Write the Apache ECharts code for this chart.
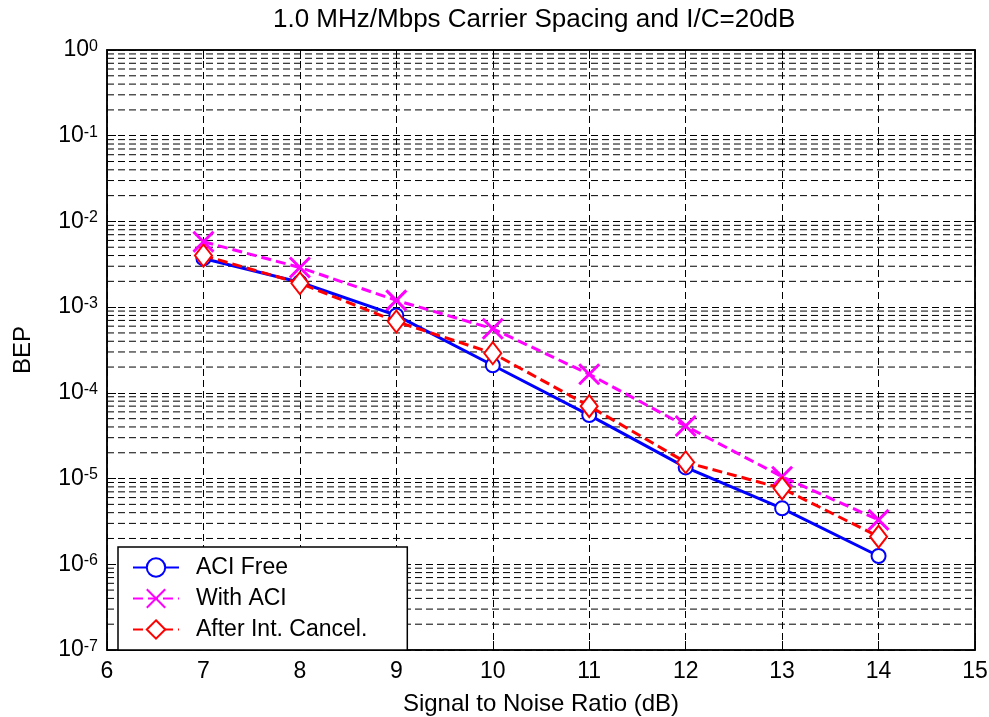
<!DOCTYPE html>
<html><head><meta charset="utf-8">
<script src="https://cdn.jsdelivr.net/npm/echarts@6/dist/echarts.min.js"></script>
<style>html,body{margin:0;padding:0;background:#fff}#c{width:989px;height:717px}</style>
</head><body><div id="c"></div>
<script>
const snr = [7, 8, 9, 10, 11, 12, 13, 14];
const aciFree = [3.7e-3, 1.95e-3, 8.0e-4, 2.1e-4, 5.5e-5, 1.35e-5, 4.5e-6, 1.25e-6];
const withAci = [5.8e-3, 2.9e-3, 1.2e-3, 5.6e-4, 1.65e-4, 4.1e-5, 1.05e-5, 3.3e-6];
const afterCancel = [4.0e-3, 1.9e-3, 6.8e-4, 2.9e-4, 7.0e-5, 1.55e-5, 7.7e-6, 2.1e-6];
const seriesNames = ['ACI Free', 'With ACI', 'After Int. Cancel.'];
const titleText = '1.0 MHz/Mbps Carrier Spacing and I/C=20dB';
const xName = 'Signal to Noise Ratio (dB)';
const yName = 'BEP';
const xMin = 6, xMax = 15;

const FONT = '"Liberation Sans", Arial, sans-serif';
const pairs = arr => snr.map((x, i) => [x, arr[i]]);

// minor grid positions 2..9 x 10^k
const minorY = [];
for (let k = -7; k <= -1; k++) for (let m = 2; m <= 9; m++) minorY.push(Number((m * Math.pow(10, k)).toPrecision(3)));

const gridDash = [7, 4];
const minorSeries = minorY.map(v => ({
  type: 'line', data: [[xMin, v], [xMax, v]], silent: true, z: 1,
  symbol: 'none', lineStyle: {color: '#000', type: gridDash, width: 1},
  emphasis: {disabled: true}, tooltip: {show: false}
}));

const chart = echarts.init(document.getElementById('c'), null, {renderer: 'canvas'});
chart.setOption({
  animation: false,
  backgroundColor: '#fff',
  title: {
    text: titleText, left: 273, top: 7, padding: 0,
    textStyle: {fontFamily: FONT, fontSize: 26, fontWeight: 'normal', color: '#000'}
  },
  grid: {left: 107, right: 14, top: 50, bottom: 67, containLabel: false, outerBoundsMode: 'none',
    show: true, borderColor: '#000', borderWidth: 1.5, backgroundColor: '#fff'},
  legend: {
    data: seriesNames, orient: 'vertical', left: 118, top: 547,
    backgroundColor: '#fff', borderColor: '#000', borderWidth: 1.5,
    padding: [9, 40, 9, 14], itemGap: 8, itemWidth: 46, itemHeight: 23,
    textStyle: {fontFamily: FONT, fontSize: 23, color: '#000', padding: [0, 0, 0, 12]},
    z: 10
  },
  xAxis: [{
    type: 'value', min: xMin, max: xMax, interval: 1,
    name: xName, nameLocation: 'middle', nameGap: 42,
    nameTextStyle: {fontFamily: FONT, fontSize: 24, color: '#000'},
    axisLine: {show: true, lineStyle: {color: '#000', width: 1.5}},
    axisTick: {show: true, inside: true, length: 9, lineStyle: {color: '#000'}},
    axisLabel: {fontFamily: FONT, fontSize: 23, color: '#000', margin: 10},
    splitLine: {show: true, lineStyle: {color: '#000', type: gridDash, width: 1}}
  }, {
    type: 'value', min: xMin, max: xMax, interval: 1, position: 'top',
    axisLine: {show: true, lineStyle: {color: '#000', width: 1.5}},
    axisTick: {show: true, inside: true, length: 9, lineStyle: {color: '#000'}},
    axisLabel: {show: false}, splitLine: {show: false}
  }],
  yAxis: [{
    type: 'log', logBase: 10, min: 1e-7, max: 1, splitNumber: 7,
    name: yName, nameLocation: 'middle', nameGap: 72, nameRotate: 90,
    nameTextStyle: {fontFamily: FONT, fontSize: 24, color: '#000'},
    axisLine: {show: true, lineStyle: {color: '#000', width: 1.5}},
    axisTick: {show: true, inside: true, length: 9, lineStyle: {color: '#000'}},
    axisLabel: {
      margin: 9,
      formatter: v => '{b|10}{s|' + Math.round(Math.log10(v)) + '}',
      rich: {
        b: {fontFamily: FONT, fontSize: 23, color: '#000', lineHeight: 23, padding: [10, 0, 10, 0]},
        s: {fontFamily: FONT, fontSize: 16, color: '#000', lineHeight: 16, verticalAlign: 'top'}
      }
    },
    splitLine: {show: true, lineStyle: {color: '#000', type: gridDash, width: 1}}
  }, {
    type: 'log', logBase: 10, min: 1e-7, max: 1, splitNumber: 7, position: 'right',
    axisLine: {show: true, lineStyle: {color: '#000', width: 1.5}},
    axisTick: {show: true, inside: true, length: 9, lineStyle: {color: '#000'}},
    axisLabel: {show: false}, splitLine: {show: false}
  }],
  series: minorSeries.concat([{
    name: seriesNames[0], type: 'line', data: pairs(aciFree), z: 5,
    symbol: 'emptyCircle', symbolSize: 14,
    lineStyle: {color: '#0000ff', width: 3, type: 'solid'},
    itemStyle: {color: '#0000ff', borderColor: '#0000ff', borderWidth: 2.5}
  }, {
    name: seriesNames[1], type: 'line', data: pairs(withAci), z: 4,
    symbol: 'path://M0,0L10,10M10,0L0,10', symbolSize: 20,
    lineStyle: {color: '#ff00ff', width: 3, type: [10, 5]},
    itemStyle: {color: 'rgba(0,0,0,0)', borderColor: '#ff00ff', borderWidth: 3}
  }, {
    name: seriesNames[2], type: 'line', data: pairs(afterCancel), z: 6,
    symbol: 'emptyDiamond', symbolSize: [17, 22],
    lineStyle: {color: '#ff0000', width: 3, type: [10, 5]},
    itemStyle: {color: '#ff0000', borderColor: '#ff0000', borderWidth: 2.5}
  }])
});
</script></body></html>
